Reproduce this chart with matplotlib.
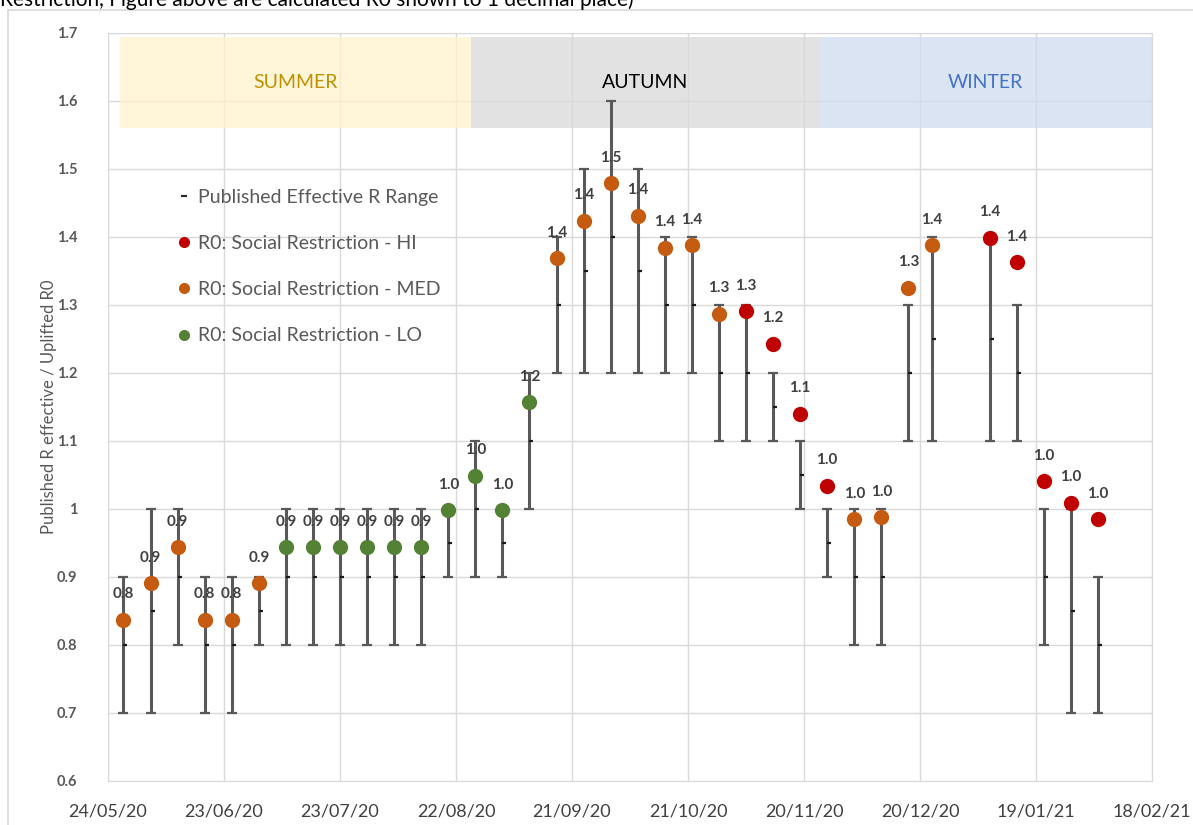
import matplotlib
matplotlib.use("Agg")
import matplotlib.pyplot as plt
import matplotlib.dates as mdates
import matplotlib.transforms as mtransforms
from matplotlib.patches import Rectangle
from matplotlib.lines import Line2D
from matplotlib.ticker import FuncFormatter
import pandas as pd

plt.rcParams['font.family'] = ['Lato', 'DejaVu Sans']

# weekly R0 estimates (Thursdays) and published effective R range
dates = ['2020-05-28', '2020-06-04', '2020-06-11', '2020-06-18', '2020-06-25', '2020-07-02',
         '2020-07-09', '2020-07-16', '2020-07-23', '2020-07-30', '2020-08-06', '2020-08-13',
         '2020-08-20', '2020-08-27', '2020-09-03', '2020-09-10', '2020-09-17', '2020-09-24',
         '2020-10-01', '2020-10-08', '2020-10-15', '2020-10-22', '2020-10-29', '2020-11-05',
         '2020-11-12', '2020-11-19', '2020-11-26', '2020-12-03', '2020-12-10', '2020-12-17',
         '2020-12-23', '2021-01-07', '2021-01-14', '2021-01-21', '2021-01-28', '2021-02-04']
r0 = [0.837, 0.891, 0.944, 0.837, 0.837, 0.891, 0.944, 0.944, 0.944, 0.944, 0.944, 0.944,
      0.998, 1.049, 0.998, 1.157, 1.369, 1.424, 1.479, 1.431, 1.384, 1.388, 1.287, 1.291,
      1.243, 1.140, 1.034, 0.985, 0.988, 1.325, 1.388, 1.399, 1.363, 1.041, 1.009, 0.985]
level = ['MED', 'MED', 'MED', 'MED', 'MED', 'MED', 'LO', 'LO', 'LO', 'LO', 'LO', 'LO',
         'LO', 'LO', 'LO', 'LO', 'MED', 'MED', 'MED', 'MED', 'MED', 'MED', 'MED', 'HI',
         'HI', 'HI', 'HI', 'MED', 'MED', 'MED', 'MED', 'HI', 'HI', 'HI', 'HI', 'HI']
r_low = [0.7, 0.7, 0.8, 0.7, 0.7, 0.8, 0.8, 0.8, 0.8, 0.8, 0.8, 0.8,
         0.9, 0.9, 0.9, 1.0, 1.2, 1.2, 1.2, 1.2, 1.2, 1.2, 1.1, 1.1,
         1.1, 1.0, 0.9, 0.8, 0.8, 1.1, 1.1, 1.1, 1.1, 0.8, 0.7, 0.7]
r_high = [0.9, 1.0, 1.0, 0.9, 0.9, 0.9, 1.0, 1.0, 1.0, 1.0, 1.0, 1.0,
          1.0, 1.1, 1.0, 1.2, 1.4, 1.5, 1.6, 1.5, 1.4, 1.4, 1.3, 1.3,
          1.2, 1.1, 1.0, 1.0, 1.0, 1.3, 1.4, 1.4, 1.3, 1.0, 1.0, 0.9]
r_mid = [0.8, 0.85, 0.9, 0.8, 0.8, 0.85, 0.9, 0.9, 0.9, 0.9, 0.9, 0.9,
         0.95, 1.0, 0.95, 1.1, 1.3, 1.35, 1.4, 1.35, 1.3, 1.3, 1.2, 1.2,
         1.15, 1.05, 0.95, 0.9, 0.9, 1.2, 1.25, 1.25, 1.2, 0.9, 0.85, 0.8]

seasons = ['SUMMER', 'AUTUMN', 'WINTER']
season_start = ['2020-05-27', '2020-08-26', '2020-11-24']
season_end = ['2020-08-26', '2020-11-24', '2021-02-18']

level_colors = {'HI': '#c00000', 'MED': '#c55a11', 'LO': '#548235'}
level_names = {'HI': 'R0: Social Restriction - HI', 'MED': 'R0: Social Restriction - MED',
               'LO': 'R0: Social Restriction - LO'}
season_face = ['#fff2cc', '#d9d9d9', '#cfdcf0']
season_text = ['#bf9000', '#000000', '#4472c4']

x = pd.to_datetime(dates)

fig = plt.figure(figsize=(11.93, 8.25), dpi=100)
ax = fig.add_axes([108 / 1193, 44 / 825, 1044 / 1193, 748 / 825])

# chart border and cut-off caption line from the source document
fig.patches.append(Rectangle((8 / 1193, -0.05), 1.1, 1.05 - 10 / 825, transform=fig.transFigure,
                             fill=False, edgecolor='#d9d9d9', lw=1.2, zorder=0))
fig.text(0.0, 1 - 6 / 825, 'Restriction, Figure above are calculated R0 shown to 1 decimal place)',
         fontsize=15, color='black', va='baseline', ha='left')

# published range
lo_err = [m - l for m, l in zip(r_mid, r_low)]
hi_err = [h - m for h, m in zip(r_high, r_mid)]
ax.errorbar(x, r_mid, yerr=[lo_err, hi_err], fmt='none', ecolor='#595959',
            elinewidth=2.2, capsize=3.3, capthick=1.6, zorder=3)
offset = mtransforms.offset_copy(ax.transData, fig=fig, x=2, y=0, units='dots')
ax.plot(x, r_mid, ls='none', marker='_', ms=3.5, mew=1.6, color='#1a1a1a',
        transform=offset, zorder=4)

# R0 points
for xi, v, lv in zip(x, r0, level):
    ax.plot(xi, v, 'o', ms=11, color=level_colors[lv], mec='none', zorder=5)
    ax.annotate(f'{v:.1f}', (xi, v), xytext=(0, 15.5), textcoords='offset points',
                ha='center', va='baseline', fontsize=11, fontweight='bold',
                color='#404040', zorder=6)

# season boxes
for name, s, e, fc, tc in zip(seasons, season_start, season_end, season_face, season_text):
    s, e = pd.Timestamp(s), pd.Timestamp(e)
    ax.add_patch(Rectangle((mdates.date2num(s), 1.561), mdates.date2num(e) - mdates.date2num(s),
                           0.133, facecolor=fc, edgecolor='none', alpha=0.75, zorder=2))
    ax.text(s + (e - s) / 2, 1.627, name, ha='center', va='center', fontsize=14, color=tc, zorder=6)

ax.set_xlim(pd.Timestamp('2020-05-24'), pd.Timestamp('2021-02-18'))
ax.set_ylim(0.6, 1.7)
ax.set_xticks(pd.date_range('2020-05-24', periods=10, freq='30D'))
ax.xaxis.set_major_formatter(mdates.DateFormatter('%d/%m/%y'))
ax.set_yticks([0.6, 0.7, 0.8, 0.9, 1.0, 1.1, 1.2, 1.3, 1.4, 1.5, 1.6, 1.7])
ax.yaxis.set_major_formatter(FuncFormatter(lambda v, p: f'{v:g}'))
ax.grid(True, color='#d9d9d9', lw=1, zorder=1)
ax.set_axisbelow(True)
for sp in ax.spines.values():
    sp.set_color('#d9d9d9')
ax.tick_params(length=0)
ax.tick_params(axis='x', labelsize=13, labelcolor='#404040', pad=16)
ax.tick_params(axis='y', labelsize=10.5, labelcolor='#595959', pad=22)
for t in ax.get_yticklabels():
    t.set_fontweight('bold')
ax.set_ylabel('Published R effective / Uplifted R0', fontsize=12, color='#595959', labelpad=0)

handles = [Line2D([], [], ls='none', marker='_', ms=5, mew=1.5, color='#262626')]
labels = ['Published Effective R Range']
for lv in ['HI', 'MED', 'LO']:
    handles.append(Line2D([], [], ls='none', marker='o', ms=8, color=level_colors[lv], mec='none'))
    labels.append(level_names[lv])
leg = ax.legend(handles, labels, loc='upper left', bbox_to_anchor=(0.051, 0.815), frameon=False,
                fontsize=14, labelcolor='#595959', labelspacing=1.5, handlelength=0.55,
                handletextpad=0.45)

fig.savefig('out.png', dpi=100)
